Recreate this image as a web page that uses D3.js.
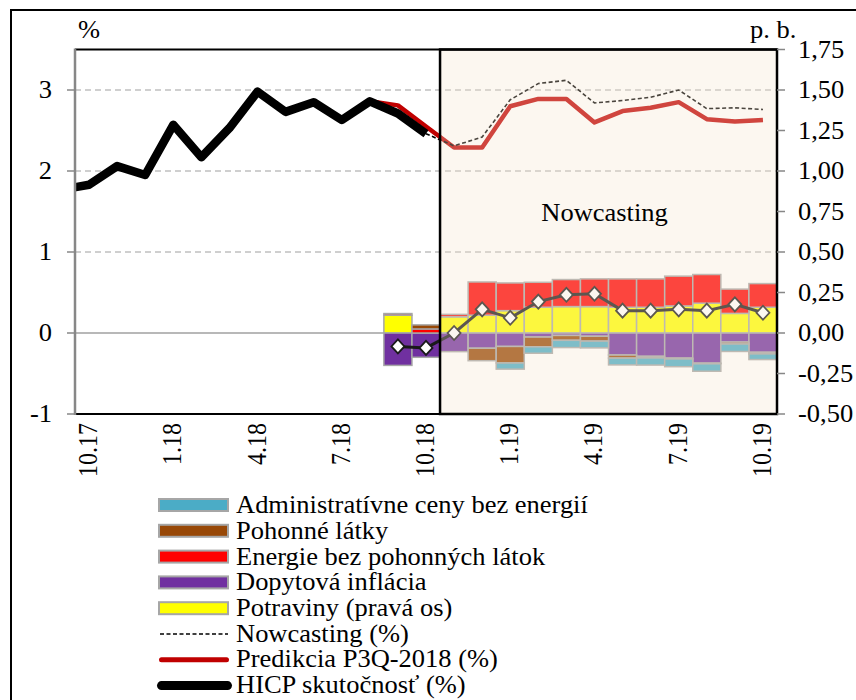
<!DOCTYPE html>
<html><head><meta charset="utf-8">
<script src="https://cdn.jsdelivr.net/npm/d3@7"></script>
<style>
body{margin:0;background:#fff}
svg{display:block}
text{font-family:"Liberation Serif","Times New Roman",serif;fill:#000}
</style>
</head><body>
<svg id="c" width="856" height="700"></svg>
<script>
// ---------- DATA ----------
const months = ["10.17","11.17","12.17","1.18","2.18","3.18","4.18","5.18","6.18","7.18","8.18","9.18",
                "10.18","11.18","12.18","1.19","2.19","3.19","4.19","5.19","6.19","7.19","8.19","9.19","10.19"];
const tickLabels = ["10.17","1.18","4.18","7.18","10.18","1.19","4.19","7.19","10.19"];
const leftTicks = [-1, 0, 1, 2, 3];
const rightTicks = [-0.5, -0.25, 0, 0.25, 0.5, 0.75, 1, 1.25, 1.5, 1.75];

// HICP actual (%), first value is 9.17 (just left of the axis)
const hicpMonths = ["9.17","10.17","11.17","12.17","1.18","2.18","3.18","4.18","5.18","6.18","7.18","8.18","9.18","10.18"];
const hicp = [1.77, 1.83, 2.06, 1.95, 2.57, 2.17, 2.53, 2.98, 2.73, 2.85, 2.63, 2.86, 2.71, 2.46];

// Prediction P3Q-2018 (%)
const predMonths = ["8.18","9.18","10.18","11.18","12.18","1.19","2.19","3.19","4.19","5.19","6.19","7.19","8.19","9.19","10.19"];
const prediction = [2.86, 2.81, 2.55, 2.29, 2.29, 2.80, 2.89, 2.89, 2.60, 2.74, 2.78, 2.85, 2.64, 2.61, 2.63];

// Nowcasting (%)
const nowMonths = ["10.18","11.18","12.18","1.19","2.19","3.19","4.19","5.19","6.19","7.19","8.19","9.19","10.19"];
const nowcast = [2.46, 2.31, 2.42, 2.88, 3.08, 3.12, 2.84, 2.87, 2.91, 3.00, 2.77, 2.78, 2.76];

// Contributions (p. b., right axis)
const barMonths = ["9.18","10.18","11.18","12.18","1.19","2.19","3.19","4.19","5.19","6.19","7.19","8.19","9.19","10.19"];
const food   = [0.11, 0.00, 0.10, 0.11, 0.138, 0.159, 0.163, 0.163, 0.159, 0.159, 0.167, 0.184, 0.121, 0.159];
const demand = [-0.20, -0.15, -0.115, -0.094, -0.083, -0.025, -0.015, -0.02, -0.136, -0.144, -0.155, -0.186, -0.056, -0.119];
const energy = [0.01, 0.025, 0.015, 0.205, 0.171, 0.154, 0.167, 0.171, 0.175, 0.175, 0.184, 0.177, 0.15, 0.146];
const fuels  = [0, 0.025, 0, -0.077, -0.102, -0.06, -0.03, -0.03, -0.019, -0.01, -0.005, -0.004, -0.012, -0.01];
const admin  = [0, 0, 0, 0, -0.038, -0.04, -0.045, -0.042, -0.042, -0.044, -0.048, -0.046, -0.046, -0.035];
const total  = [-0.083, -0.092, 0.0, 0.146, 0.094, 0.194, 0.236, 0.242, 0.138, 0.138, 0.146, 0.138, 0.177, 0.125];

const seriesNames = ["Potraviny (pravá os)","Dopytová inflácia","Energie bez pohonných látok","Pohonné látky","Administratívne ceny bez energií"];
const seriesColors = ["#FFFF00","#7030A0","#FF0000","#984807","#4BACC6"];
const legendOrder = ["Administratívne ceny bez energií","Pohonné látky","Energie bez pohonných látok","Dopytová inflácia","Potraviny (pravá os)"];
const lineLegend = ["Nowcasting (%)","Predikcia P3Q-2018 (%)","HICP skutočnosť (%)"];
const nowcastLabel = "Nowcasting";

// ---------- LAYOUT ----------
const svg = d3.select("#c");
const L = 75, R = 777, T = 49.5, B = 414;
const SX = 1.06, FS = 25;
const idx = m => months.indexOf(m) >= 0 ? months.indexOf(m) : (m === "9.17" ? -1 : NaN);
const x = d3.scaleLinear().domain([-0.5, months.length - 0.5]).range([L, R]);
const bw = x(1) - x(0);
const yL = d3.scaleLinear().domain([-1, 3.5]).range([B, T]);
const yR = d3.scaleLinear().domain([-0.5, 1.75]).range([B, T]);

function txt(g, px, py, s, anchor) {
  return g.append("text").attr("transform", `translate(${px},${py}) scale(${SX},1)`)
    .attr("text-anchor", anchor || "start").attr("font-size", FS).text(s);
}

// outer frame
svg.append("rect").attr("x", 11).attr("y", 10).attr("width", 900).attr("height", 800)
  .attr("fill", "none").attr("stroke", "#000").attr("stroke-width", 2);

svg.append("defs").append("clipPath").attr("id", "pc")
  .append("rect").attr("x", L).attr("y", T - 10).attr("width", R - L).attr("height", B - T + 10);

// gridlines
const grid = svg.append("g");
grid.selectAll("line.g").data([1, 2, 3]).join("line")
  .attr("x1", L).attr("x2", R).attr("y1", d => yL(d)).attr("y2", d => yL(d))
  .attr("stroke", "#C0C0C0").attr("stroke-width", 1.5).attr("stroke-dasharray", "6,4");
grid.append("line").attr("x1", L).attr("x2", R).attr("y1", yL(0)).attr("y2", yL(0))
  .attr("stroke", "#A0A0A0").attr("stroke-width", 1.5);

// stacked bars
const rows = barMonths.map((m, i) => ({m, s0: food[i], s1: demand[i], s2: energy[i], s3: fuels[i], s4: admin[i]}));
const stack = d3.stack().keys(["s0","s1","s2","s3","s4"]).offset(d3.stackOffsetDiverging);
const stacked = stack(rows);
const barsG = svg.append("g");
stacked.forEach((layer, k) => {
  barsG.append("g").selectAll("rect").data(layer.filter(d => Math.abs(d[1] - d[0]) > 1e-9)).join("rect")
    .attr("x", d => x(idx(d.data.m)) - bw / 2)
    .attr("width", bw)
    .attr("y", d => yR(Math.max(d[0], d[1])))
    .attr("height", d => Math.abs(yR(d[0]) - yR(d[1])))
    .attr("fill", seriesColors[k])
    .attr("stroke", "#A6A6A6").attr("stroke-width", 1.5);
});

// lines
const lines = svg.append("g").attr("clip-path", "url(#pc)");
const lineGen = (ms, scale) => d3.line().x((d, i) => x(idx(ms[i]))).y(d => scale(d));
lines.append("path").datum(prediction).attr("d", lineGen(predMonths, yL))
  .attr("fill", "none").attr("stroke", "#C00000").attr("stroke-width", 4.5).attr("stroke-linejoin", "round");
lines.append("path").datum(hicp).attr("d", lineGen(hicpMonths, yL))
  .attr("fill", "none").attr("stroke", "#000").attr("stroke-width", 8.5).attr("stroke-linejoin", "round");
lines.append("path").datum(nowcast).attr("d", lineGen(nowMonths, yL))
  .attr("fill", "none").attr("stroke", "#000").attr("stroke-width", 1.6).attr("stroke-dasharray", "4,2.5");
lines.append("path").datum(total).attr("d", lineGen(barMonths, yR))
  .attr("fill", "none").attr("stroke", "#1a1a1a").attr("stroke-width", 3);
lines.selectAll("path.dm").data(total).join("path").attr("class", "dm")
  .attr("transform", (d, i) => `translate(${x(idx(barMonths[i]))},${yR(d)})`)
  .attr("d", "M0,-7L6.5,0L0,7L-6.5,0Z")
  .attr("fill", "#fff").attr("stroke", "#1a1a1a").attr("stroke-width", 1.8);

// nowcasting box (semi-transparent overlay)
const bx = x(idx("11.18")) - bw / 2;
svg.append("rect").attr("x", bx).attr("y", T).attr("width", R - bx).attr("height", B - T)
  .attr("fill", "rgb(245,228,205)").attr("fill-opacity", 0.3)
  .attr("stroke", "#000").attr("stroke-width", 2.5);
txt(svg, (bx + R) / 2 - 4, 221, nowcastLabel, "middle");

// plot frame top/bottom
svg.append("line").attr("x1", L).attr("x2", R).attr("y1", T).attr("y2", T).attr("stroke", "#000").attr("stroke-width", 2);
svg.append("line").attr("x1", L).attr("x2", R).attr("y1", B).attr("y2", B).attr("stroke", "#000").attr("stroke-width", 2);

// left axis
const la = svg.append("g");
la.append("line").attr("x1", L).attr("x2", L).attr("y1", T - 1).attr("y2", B + 1).attr("stroke", "#878787").attr("stroke-width", 2.5);
la.selectAll("line.t").data(leftTicks).join("line").attr("class", "t")
  .attr("x1", L - 8).attr("x2", L).attr("y1", d => yL(d)).attr("y2", d => yL(d))
  .attr("stroke", "#878787").attr("stroke-width", 1.5);
leftTicks.forEach(v => txt(la, 52, yL(v) + 8, String(v), "end"));
txt(la, 78, 38, "%", "start");

// right axis
const ra = svg.append("g");
ra.selectAll("line.t").data(rightTicks).join("line").attr("class", "t")
  .attr("x1", R).attr("x2", R + 8).attr("y1", d => yR(d)).attr("y2", d => yR(d))
  .attr("stroke", "#878787").attr("stroke-width", 1.5);
rightTicks.forEach(v => txt(ra, 798, yR(v) + 8, v.toFixed(2).replace(".", ","), "start"));
txt(ra, 750, 38, "p. b.", "start");

// x tick labels (rotated)
const xa = svg.append("g");
xa.selectAll("text").data(tickLabels).join("text")
  .attr("transform", d => `translate(${x(idx(d)) + 8},${423}) rotate(-90) scale(0.96,${SX})`)
  .attr("text-anchor", "end").attr("font-size", FS).text(d => d);

// legend
const lg = svg.append("g");
const rowY = i => 505 + i * 25.8;
legendOrder.forEach((name, i) => {
  const k = seriesNames.indexOf(name);
  lg.append("rect").attr("x", 159).attr("y", rowY(i) - 6).attr("width", 69).attr("height", 12)
    .attr("fill", seriesColors[k]).attr("stroke", "#A6A6A6").attr("stroke-width", 2);
  txt(lg, 236, rowY(i) + 8, name, "start");
});
lg.append("line").attr("x1", 160).attr("x2", 228).attr("y1", rowY(5)).attr("y2", rowY(5))
  .attr("stroke", "#000").attr("stroke-width", 1.5).attr("stroke-dasharray", "4,2.5");
lg.append("line").attr("x1", 161.5).attr("x2", 226.5).attr("y1", rowY(6)).attr("y2", rowY(6))
  .attr("stroke", "#C00000").attr("stroke-width", 5).attr("stroke-linecap", "round");
lg.append("line").attr("x1", 161.5).attr("x2", 227.5).attr("y1", rowY(7)).attr("y2", rowY(7))
  .attr("stroke", "#000").attr("stroke-width", 9).attr("stroke-linecap", "round");
lineLegend.forEach((name, j) => txt(lg, 236, rowY(5 + j) + 7.5, name, "start"));
</script>
</body></html>
